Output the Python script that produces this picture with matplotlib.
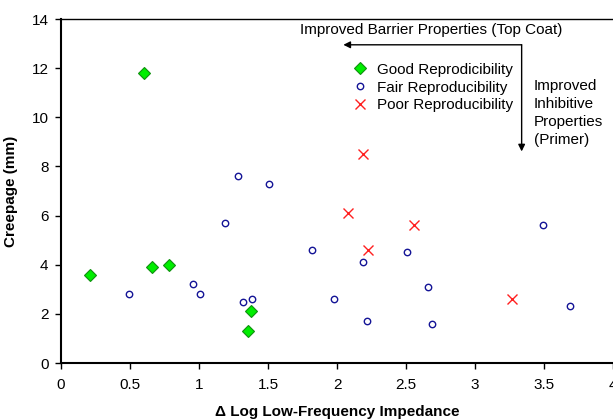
import numpy as np
import matplotlib
matplotlib.use('Agg')
import matplotlib.pyplot as plt
from matplotlib.ticker import FuncFormatter

plt.rcParams['font.family'] = ['Liberation Sans', 'DejaVu Sans']

# Good reproducibility
good_x = [0.21, 0.60, 0.66, 0.785, 1.38, 1.355]
good_y = [3.6, 11.8, 3.9, 4.0, 2.1, 1.3]

# Fair reproducibility
fair_x = [0.49, 0.954, 1.01, 1.186, 1.285, 1.317, 1.386, 1.507, 1.816,
          1.976, 2.188, 2.22, 2.51, 2.66, 2.69, 3.495, 3.686]
fair_y = [2.8, 3.2, 2.8, 5.7, 7.6, 2.5, 2.6, 7.3, 4.6,
          2.6, 4.1, 1.7, 4.5, 3.1, 1.6, 5.6, 2.3]

# Poor reproducibility
poor_x = [2.08, 2.19, 2.222, 2.56, 3.27]
poor_y = [6.1, 8.5, 4.6, 5.6, 2.6]

W, H = 613, 419
fig = plt.figure(figsize=(W / 100, H / 100), dpi=100)
ax = fig.add_axes([61 / W, (H - 363) / H, 552 / W, 344 / H])

ax.plot(good_x, good_y, linestyle='none', marker='D', markersize=6.5,
        markerfacecolor='#00ee00', markeredgecolor='#109010', markeredgewidth=0.8,
        label='Good Reprodicibility')
ax.plot(fair_x, fair_y, linestyle='none', marker='o', markersize=4.6,
        markerfacecolor='white', markeredgecolor='#141496', markeredgewidth=1.0,
        label='Fair Reproducibility')
ax.plot(poor_x, poor_y, linestyle='none', marker='x', markersize=7,
        markeredgecolor='#ff2020', markeredgewidth=1.0,
        label='Poor Reproducibility')

ax.set_xlim(0, 4)
ax.set_ylim(0, 14)
ax.set_xticks(np.arange(0, 4.01, 0.5))
ax.set_yticks(np.arange(0, 15, 2))
ax.xaxis.set_major_formatter(FuncFormatter(lambda v, p: '%g' % v))
ax.tick_params(direction='out', length=4, width=1, labelsize=11, pad=5)
ax.tick_params(axis='x', pad=7)

for s in ['left', 'bottom']:
    ax.spines[s].set_linewidth(1.5)
ax.spines['top'].set_linewidth(1.0)
ax.spines['right'].set_visible(False)

ax.set_xlabel('Δ Log Low-Frequency Impedance', fontsize=11, fontweight='bold', labelpad=9)
ax.set_ylabel('Creepage (mm)', fontsize=11, fontweight='bold', labelpad=10)

# direction arrows
ax.annotate('', xy=(2.046, 12.95), xytext=(3.338, 12.95),
            arrowprops=dict(arrowstyle='-|>', color='black', lw=1.0,
                            mutation_scale=10, shrinkA=0, shrinkB=0))
ax.annotate('', xy=(3.338, 8.61), xytext=(3.338, 12.95),
            arrowprops=dict(arrowstyle='-|>', color='black', lw=1.0,
                            mutation_scale=10, shrinkA=0, shrinkB=0))
ax.text(1.732, 13.57, 'Improved Barrier Properties (Top Coat)', fontsize=11,
        ha='left', va='center')
ax.text(3.428, 10.17, 'Improved\nInhibitive\nProperties\n(Primer)', fontsize=11,
        ha='left', va='center', linespacing=1.36)

ax.legend(loc='upper left', bbox_to_anchor=(0.5274, 0.873), frameon=False,
          fontsize=11, handlelength=1.0, handletextpad=0.6, labelspacing=0.25,
          borderpad=0, borderaxespad=0)

fig.savefig('out.png', dpi=100)
